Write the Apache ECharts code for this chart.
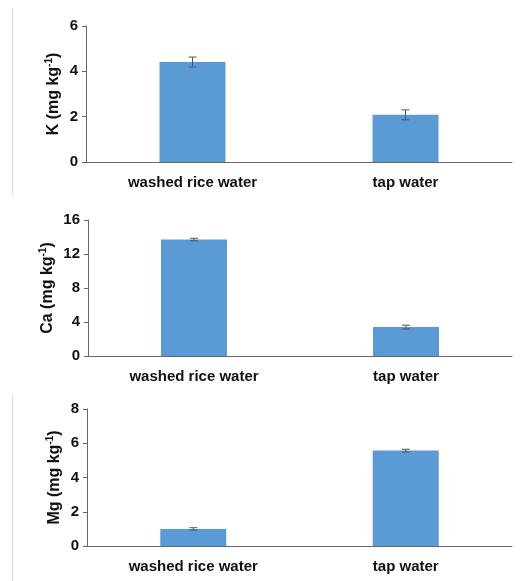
<!DOCTYPE html>
<html><head><meta charset="utf-8">
<script src="https://cdn.jsdelivr.net/npm/echarts@6/dist/echarts.min.js"></script>
<style>html,body{margin:0;padding:0;background:#fff}#c{width:524px;height:581px}</style>
</head><body><div id="c"></div>
<script>
const categories = ['washed rice water', 'tap water'];
const kValues = [4.41, 2.08];
const kErrors = [0.22, 0.22];
const caValues = [13.7, 3.4];
const caErrors = [0.15, 0.22];
const mgValues = [1.0, 5.57];
const mgErrors = [0.07, 0.08];
const kTicks = [0, 6, 2];
const caTicks = [0, 16, 4];
const mgTicks = [0, 8, 2];
const panelNames = ['K', 'Ca', 'Mg'];

const chart = echarts.init(document.getElementById('c'));
const font = 'Liberation Sans, Arial, sans-serif';
const grids = [
  {left: 86, right: 12, top: 26, height: 136},
  {left: 88, right: 12, top: 220, height: 136},
  {left: 87, right: 12, top: 409, height: 137}
];
const nameGaps = [23, 31, 23];
const vals = [kValues, caValues, mgValues];
const errs = [kErrors, caErrors, mgErrors];
const ticks = [kTicks, caTicks, mgTicks];

const xAxes = [], yAxes = [], series = [];
for (let i = 0; i < 3; i++) {
  xAxes.push({
    type: 'category', gridIndex: i, data: categories,
    axisLine: {lineStyle: {color: '#666', width: 1}},
    axisTick: {show: false},
    axisLabel: {color: '#111', fontWeight: 'bold', fontSize: 15, fontFamily: font, margin: 13}
  });
  yAxes.push({
    type: 'value', gridIndex: i, min: ticks[i][0], max: ticks[i][1], interval: ticks[i][2],
    name: '{a|' + panelNames[i] + ' (mg kg}{s|-1}{a|)}',
    nameLocation: 'middle', nameGap: nameGaps[i], nameRotate: 90, nameMoveOverlap: false,
    nameTextStyle: {rich: {
      a: {fontSize: 16, fontWeight: 'bold', color: '#111', fontFamily: font},
      s: {fontSize: 10, fontWeight: 'bold', color: '#111', fontFamily: font, verticalAlign: 'top', padding: [0, 0, 9, 0]}
    }},
    axisLine: {show: true, lineStyle: {color: '#666', width: 1}},
    axisTick: {show: true, length: 4, lineStyle: {color: '#666'}},
    splitLine: {show: false},
    axisLabel: {color: '#111', fontWeight: 'bold', fontSize: 15, fontFamily: font, margin: 8}
  });
  series.push({
    type: 'bar', xAxisIndex: i, yAxisIndex: i, data: vals[i],
    barWidth: 66, itemStyle: {color: '#5B9BD5'}
  });
  const ev = errs[i], vv = vals[i];
  series.push({
    type: 'custom', xAxisIndex: i, yAxisIndex: i,
    data: vv.map((v, j) => [j, v - ev[j], v + ev[j]]),
    renderItem: function (params, api) {
      const lo = api.coord([api.value(0), api.value(1)]);
      const hi = api.coord([api.value(0), api.value(2)]);
      const x = lo[0], w = 4;
      const st = {stroke: '#555', lineWidth: 1};
      return {type: 'group', children: [
        {type: 'line', shape: {x1: x, y1: lo[1], x2: x, y2: hi[1]}, style: st},
        {type: 'line', shape: {x1: x - w, y1: lo[1], x2: x + w, y2: lo[1]}, style: st},
        {type: 'line', shape: {x1: x - w, y1: hi[1], x2: x + w, y2: hi[1]}, style: st}
      ]};
    },
    z: 5
  });
}

chart.setOption({
  animation: false,
  backgroundColor: '#fff',
  grid: grids,
  xAxis: xAxes,
  yAxis: yAxes,
  series: series,
  graphic: [
    {type: 'line', shape: {x1: 12.5, y1: 8, x2: 12.5, y2: 195}, style: {stroke: '#ddd', lineWidth: 1}},
    {type: 'line', shape: {x1: 12.5, y1: 395, x2: 12.5, y2: 581}, style: {stroke: '#ddd', lineWidth: 1}}
  ]
});
</script></body></html>
